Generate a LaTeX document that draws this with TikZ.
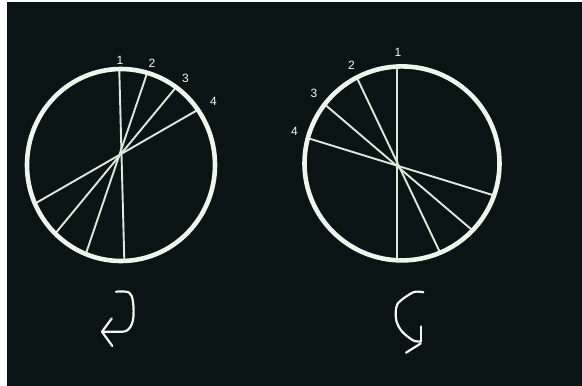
\documentclass[tikz,border=0pt]{standalone}
\usepackage{fontspec}
\setmainfont{Liberation Sans}
\definecolor{bgdark}{RGB}{10,20,21}
\definecolor{ringc}{RGB}{236,246,236}
\definecolor{spokec}{RGB}{220,232,220}
\definecolor{chalk}{RGB}{240,248,240}
\begin{document}
\begin{tikzpicture}[x=1pt,y=-1pt,
  ring/.style={draw=ringc,line width=4.6pt},
  spoke/.style={draw=spokec,line width=1.9pt},
  numlbl/.style={text=chalk,font=\fontsize{12}{14}\selectfont,inner sep=0pt},
  chalkline/.style={draw=chalk,line width=2.2pt,line cap=round,line join=round}]
\useasboundingbox (0,0) rectangle (582,386);
\fill[white] (0,0) rectangle (582,386);
\fill[bgdark] (7,2) rectangle (582,386);
% left wheel
\coordinate (L) at (121,165);
\draw[spoke] (119.3,71) -- (124.3,260);
\draw[spoke] (146.5,75) -- (86.3,252.5);
\draw[spoke] (175,88.5) -- (56.5,232);
\draw[spoke] (197.5,110) -- (35.5,203.3);
\draw[ring] (L) ellipse [x radius=94, y radius=96];
\node[numlbl] (l1) at (120,60.5) {1};
\node[numlbl] (l2) at (152,63) {2};
\node[numlbl] (l3) at (185.5,78.5) {3};
\node[numlbl] (l4) at (213.5,101) {4};
% right wheel
\coordinate (R) at (402,163.4);
\draw[spoke] (396.7,67) -- (396.7,260);
\draw[spoke] (357,78) -- (439.8,252);
\draw[spoke] (326,105.5) -- (471.5,229.5);
\draw[spoke] (309,138.5) -- (492.5,195);
\draw[ring] (R) ellipse [x radius=97.5, y radius=97];
\node[numlbl] (r1) at (398,52.5) {1};
\node[numlbl] (r2) at (351.5,65.5) {2};
\node[numlbl] (r3) at (314,93) {3};
\node[numlbl] (r4) at (294.5,131) {4};
% left arrow
\coordinate (la0) at (116,291.7);
\coordinate (laT) at (102,331.7);
\draw[chalkline] plot[smooth,tension=0.6] coordinates {(la0) (129,292.5) (133,302) (133,320) (127,330.5) (115,331.7) (laT)};
\draw[chalkline] (111.7,318.5) -- (laT) -- (112.3,346);
% right arrow
\coordinate (ra0) at (423.3,292.3);
\coordinate (raT) at (420.7,341.5);
\draw[chalkline] plot[smooth,tension=0.5] coordinates {(ra0) (413.3,292.3) (397.5,304) (396.2,320) (402,331.5) (413.3,340.5) (raT)};
\draw[chalkline] (420.7,326.5) -- (raT);
\draw[chalkline] (420.7,343.5) -- (406,352.7);
\end{tikzpicture}
\end{document}
